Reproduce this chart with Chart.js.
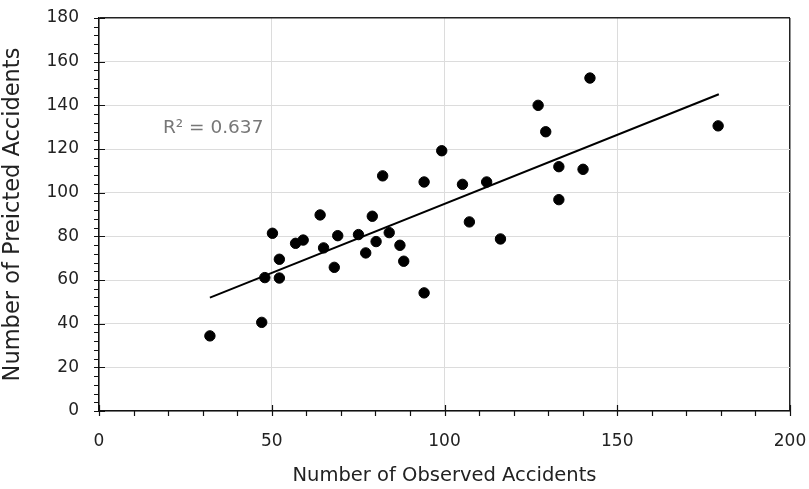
<!DOCTYPE html>
<html>
<head>
<meta charset="utf-8">
<script src="https://cdn.jsdelivr.net/npm/chart.js@4"></script>
<style>
  html, body { margin: 0; padding: 0; background: #fff; }
  canvas { display: block; }
</style>
</head>
<body>
<canvas id="chart" width="809" height="489"></canvas>
<script>
// observed vs predicted accidents
const observed = [32.1, 47.1, 48.0, 50.2, 52.2, 52.2, 56.9, 59.1, 64.0, 65.0, 68.1, 69.1,
  75.1, 77.2, 79.1, 80.2, 82.1, 84.0, 87.1, 88.2, 94.1, 94.1, 99.2, 105.2, 107.2, 112.2,
  116.2, 127.1, 129.3, 133.1, 133.1, 140.1, 142.1, 179.2];
const predicted = [34.4, 40.6, 61.1, 81.4, 69.5, 60.9, 76.8, 78.3, 89.8, 74.7, 65.8, 80.3,
  80.8, 72.4, 89.2, 77.6, 107.7, 81.7, 75.9, 68.6, 54.1, 104.9, 119.2, 103.8, 86.6, 104.9,
  78.8, 140.0, 127.9, 111.9, 96.8, 110.7, 152.5, 130.6];

// trend line end points
const trendX = [32.1, 179.4];
const trendY = [51.9, 145.1];

const xTicks = [0, 50, 100, 150, 200];
const yTicks = [0, 20, 40, 60, 80, 100, 120, 140, 160, 180];
const r2Label = 'R\u00b2 = 0.637';

const FONT = '"DejaVu Sans", "Liberation Sans", Arial, sans-serif';

// minor/major tick marks + R2 label
const extras = {
  id: 'extras',
  afterDraw(chart) {
    const ctx = chart.ctx;
    const xs = chart.scales.x, ys = chart.scales.y;
    const area = chart.chartArea;
    ctx.save();
    ctx.strokeStyle = '#111';
    ctx.lineWidth = 1.2;
    ctx.beginPath();
    for (let v = 0; v <= 180; v += 4) {
      const py = Math.round(ys.getPixelForValue(v)) + 0.5;
      const major = v % 20 === 0;
      ctx.moveTo(area.left - 5, py);
      ctx.lineTo(area.left + (major ? 6 : 0), py);
    }
    for (let v = 0; v <= 200; v += 10) {
      const px = Math.round(xs.getPixelForValue(v)) + 0.5;
      const major = v % 50 === 0;
      ctx.moveTo(px, area.bottom + 5);
      ctx.lineTo(px, area.bottom - (major ? 6 : 0));
    }
    ctx.stroke();

    ctx.fillStyle = '#777';
    ctx.font = '18.5px ' + FONT;
    ctx.textBaseline = 'middle';
    ctx.fillText(r2Label, xs.getPixelForValue(18.5), ys.getPixelForValue(129.6));
    ctx.restore();
  }
};

const noPad = (s) => {
  s.paddingTop = 0; s.paddingBottom = 0; s.paddingLeft = 0; s.paddingRight = 0;
};

new Chart(document.getElementById('chart'), {
  type: 'scatter',
  data: {
    datasets: [{
      label: 'Accidents',
      data: observed.map((x, i) => ({ x: x, y: predicted[i] })),
      backgroundColor: '#000',
      borderColor: '#000',
      pointRadius: 5.2,
      pointHoverRadius: 5.2
    }, {
      label: 'Trend',
      type: 'line',
      data: trendX.map((x, i) => ({ x: x, y: trendY[i] })),
      borderColor: '#000',
      borderWidth: 2,
      pointRadius: 0,
      fill: false
    }]
  },
  options: {
    responsive: false,
    animation: false,
    layout: { padding: { left: 0, right: 19, top: 18, bottom: 0 } },
    plugins: {
      legend: { display: false },
      tooltip: { enabled: false }
    },
    scales: {
      x: {
        type: 'linear',
        min: 0,
        max: 200,
        afterBuildTicks: (s) => { s.ticks = xTicks.map(v => ({ value: v })); },
        afterFit: (s) => { s.height = 78; noPad(s); },
        grid: {
          drawTicks: false,
          color: (c) => c.tick && c.tick.value === 200 ? '#222' : '#dcdcdc',
          lineWidth: (c) => c.tick && c.tick.value === 200 ? 1.5 : 1
        },
        border: { color: '#111', width: 1.5 },
        ticks: {
          padding: 20,
          color: '#222',
          font: { family: FONT, size: 17 }
        },
        title: {
          display: true,
          text: 'Number of Observed Accidents',
          color: '#222',
          font: { family: FONT, size: 19.5 },
          padding: { top: 0, bottom: 1 }
        }
      },
      y: {
        type: 'linear',
        min: 0,
        max: 180,
        afterBuildTicks: (s) => { s.ticks = yTicks.map(v => ({ value: v })); },
        afterFit: (s) => { s.width = 99; noPad(s); },
        grid: {
          drawTicks: false,
          color: (c) => c.tick && c.tick.value === 180 ? '#222' : '#dcdcdc',
          lineWidth: (c) => c.tick && c.tick.value === 180 ? 1.5 : 1
        },
        border: { color: '#111', width: 1.5 },
        ticks: {
          padding: 20,
          color: '#222',
          font: { family: FONT, size: 17 }
        },
        title: {
          display: true,
          text: 'Number of Preicted Accidents',
          color: '#222',
          font: { family: FONT, size: 22.5 },
          padding: { top: 0, bottom: 4 }
        }
      }
    }
  },
  plugins: [extras]
});
</script>
</body>
</html>
